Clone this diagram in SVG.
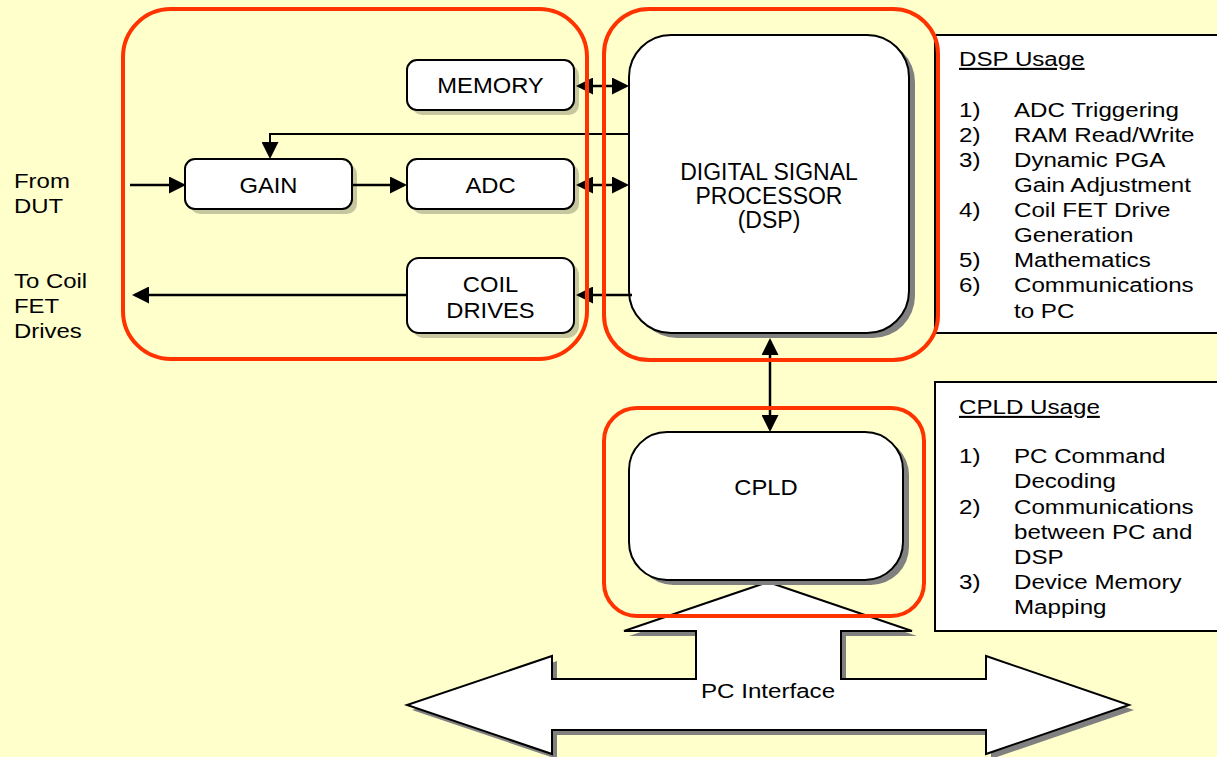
<svg xmlns="http://www.w3.org/2000/svg" width="1217" height="757" viewBox="0 0 1217 757">
<defs>
<style>
.bg{fill:#FFFFCC}
.box{fill:#fff;stroke:#000;stroke-width:2}
.sh{fill:#000;fill-opacity:0.22}
.shd{fill:#808080}
.ctr{fill:none;stroke:#FF3300;stroke-width:4}
.ln{fill:none;stroke:#000;stroke-width:2.5}
.thin{stroke-width:2}
.ubox{fill:#fff;stroke:#000;stroke-width:2}
.t{font-family:"Liberation Sans",Arial,sans-serif;fill:#000}
.lbl{font-size:22px;text-anchor:middle}
.big{font-size:23px;text-anchor:middle}
.use{font-size:21px}
.ul{text-decoration:underline}
</style>
<marker id="ah" viewBox="0 0 17 17" refX="14" refY="8.5" markerWidth="17" markerHeight="17" markerUnits="userSpaceOnUse" orient="auto-start-reverse">
<path d="M0,0 L17,8.5 L0,17 Z" fill="#000"/>
</marker>
<polygon id="pcShape" points="768,582 912,631 841,631 841,679 986,679 986,656 1129,705 986,754 986,730 552,730 552,754 407,705 552,656 552,679 696,679 696,631 624,631"/>
</defs>

<rect class="bg" x="0" y="0" width="1217" height="757"/>

<!-- PC interface arrow -->
<g id="pc-interface">
<use href="#pcShape" transform="translate(5 5)" fill="#808080"/>
<use href="#pcShape" fill="#fff" stroke="#000" stroke-width="2" stroke-linejoin="miter"/>
<text class="t use" transform="translate(768 698) scale(1.15 1)" text-anchor="middle">PC Interface</text>
</g>

<!-- Left external labels -->
<g id="labels-left" class="t use" transform="translate(14 0) scale(1.14 1)">
<text x="0" y="188">From</text>
<text x="0" y="213">DUT</text>
<text x="0" y="288">To Coil</text>
<text x="0" y="313">FET</text>
<text x="0" y="338">Drives</text>
</g>

<g id="memory">
<rect class="sh" x="412" y="65" width="167" height="50" rx="10"/>
<rect class="box" x="407" y="60" width="167" height="50" rx="10"/>
<text class="t lbl" transform="translate(490.5 93) scale(1.08 1)">MEMORY</text>
</g>

<g id="gain">
<rect class="sh" x="190" y="164" width="167" height="50" rx="10"/>
<rect class="box" x="185" y="159" width="167" height="50" rx="10"/>
<text class="t lbl" transform="translate(268.5 193) scale(1.08 1)">GAIN</text>
</g>

<g id="adc">
<rect class="sh" x="412" y="164" width="167" height="50" rx="10"/>
<rect class="box" x="407" y="159" width="167" height="50" rx="10"/>
<text class="t lbl" transform="translate(490.5 193) scale(1.08 1)">ADC</text>
</g>

<g id="coil-drives">
<rect class="sh" x="412" y="263" width="167" height="75" rx="12"/>
<rect class="box" x="407" y="258" width="167" height="75" rx="12"/>
<text class="t lbl" transform="translate(490.5 292) scale(1.08 1)">COIL</text>
<text class="t lbl" transform="translate(490.5 318) scale(1.08 1)">DRIVES</text>
</g>

<g id="dsp">
<rect class="shd" x="635" y="40" width="280" height="298" rx="42"/>
<rect class="box" x="629" y="35" width="280" height="298" rx="42"/>
<text class="t big" x="769" y="180">DIGITAL SIGNAL</text>
<text class="t big" x="769" y="204">PROCESSOR</text>
<text class="t big" x="769" y="228">(DSP)</text>
</g>

<g id="cpld">
<rect class="shd" x="635" y="437" width="274" height="148" rx="38"/>
<rect class="box" x="629" y="432" width="274" height="148" rx="38"/>
<text class="t lbl" transform="translate(766 495) scale(1.08 1)">CPLD</text>
</g>

<g id="dsp-usage">
<rect class="ubox" x="935" y="35" width="300" height="298"/>
<g class="t use" transform="translate(959 0) scale(1.15 1)">
<text class="ul" x="0" y="66">DSP Usage</text>
<text x="0" y="117">1)</text><text x="47.8" y="117">ADC Triggering</text>
<text x="0" y="142">2)</text><text x="47.8" y="142">RAM Read/Write</text>
<text x="0" y="167">3)</text><text x="47.8" y="167">Dynamic PGA</text>
<text x="47.8" y="192">Gain Adjustment</text>
<text x="0" y="217">4)</text><text x="47.8" y="217">Coil FET Drive</text>
<text x="47.8" y="242">Generation</text>
<text x="0" y="267">5)</text><text x="47.8" y="267">Mathematics</text>
<text x="0" y="292">6)</text><text x="47.8" y="292">Communications</text>
<text x="47.8" y="318">to PC</text>
</g>
</g>

<g id="cpld-usage">
<rect class="ubox" x="935" y="382" width="300" height="249"/>
<g class="t use" transform="translate(959 0) scale(1.15 1)">
<text class="ul" x="0" y="414">CPLD Usage</text>
<text x="0" y="463">1)</text><text x="47.8" y="463">PC Command</text>
<text x="47.8" y="488">Decoding</text>
<text x="0" y="514">2)</text><text x="47.8" y="514">Communications</text>
<text x="47.8" y="539">between PC and</text>
<text x="47.8" y="564">DSP</text>
<text x="0" y="589">3)</text><text x="47.8" y="589">Device Memory</text>
<text x="47.8" y="614">Mapping</text>
</g>
</g>

<g id="connectors">
<line class="ln" x1="130" y1="185" x2="183" y2="185" marker-end="url(#ah)"/>
<line class="ln" x1="352" y1="185" x2="404" y2="185" marker-end="url(#ah)"/>
<path class="ln thin" d="M629,134 H270 V156" marker-end="url(#ah)"/>
<line class="ln" x1="579" y1="86" x2="626" y2="86" marker-start="url(#ah)" marker-end="url(#ah)"/>
<line class="ln" x1="579" y1="185" x2="626" y2="185" marker-start="url(#ah)" marker-end="url(#ah)"/>
<line class="ln" x1="632" y1="295" x2="579" y2="295" marker-end="url(#ah)"/>
<line class="ln" x1="408" y1="295" x2="135" y2="295" marker-end="url(#ah)"/>
<line class="ln" x1="770" y1="341" x2="770" y2="429" marker-start="url(#ah)" marker-end="url(#ah)"/>
</g>

<g id="group-frontend"><rect class="ctr" x="123" y="9" width="464" height="350" rx="48"/></g>
<g id="group-dsp"><rect class="ctr" x="604" y="9" width="334" height="351" rx="45"/></g>
<g id="group-cpld"><rect class="ctr" x="604" y="408" width="320" height="208" rx="33"/></g>
</svg>
